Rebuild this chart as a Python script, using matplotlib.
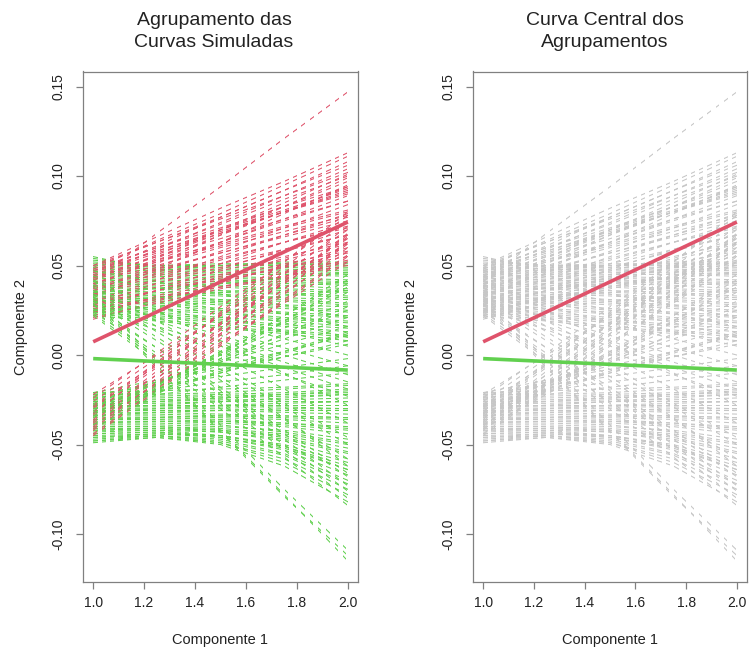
import matplotlib
matplotlib.use("Agg")
import matplotlib.pyplot as plt
from matplotlib.path import Path

plt.rcParams['font.family'] = ['Liberation Sans', 'DejaVu Sans']

# Evaluation grid of the simulated curves
x_knots = [1.0, 1.25, 1.5, 1.75, 2.0]

# Cluster 1 (red): curves starting high and rising
red_upper = [
    (.041, .068, .094, .121, .147),
    (.050, .066, .082, .097, .113),
    (.048, .064, .079, .095, .111),
    (.046, .061, .077, .092, .108),
    (.049, .063, .077, .092, .106),
    (.044, .059, .074, .089, .104),
    (.050, .063, .076, .089, .102),
    (.038, .054, .070, .085, .101),
    (.047, .060, .073, .087, .100),
    (.035, .051, .067, .083, .099),
    (.042, .056, .070, .083, .097),
    (.032, .048, .063, .079, .095),
    (.048, .060, .071, .083, .094),
    (.039, .053, .067, .080, .094),
    (.047, .058, .070, .081, .093),
    (.043, .055, .068, .080, .092),
    (.045, .057, .068, .080, .091),
    (.046, .058, .069, .080, .090),
    (.036, .049, .063, .076, .089),
    (.040, .052, .063, .075, .086),
    (.044, .055, .065, .076, .086),
    (.033, .046, .058, .071, .084),
    (.043, .053, .062, .072, .081),
    (.042, .052, .061, .071, .080),
    (.030, .042, .055, .067, .079),
    (.040, .050, .060, .069, .078),
    (.037, .047, .057, .067, .077),
    (.038, .048, .057, .066, .075),
    (.028, .040, .051, .063, .074),
    (.034, .044, .053, .063, .072),
    (.036, .045, .054, .063, .071),
    (.025, .036, .048, .059, .070),
    (.031, .040, .049, .058, .067),
    (.034, .042, .051, .059, .067),
    (.022, .033, .044, .054, .065),
    (.030, .038, .047, .055, .063),
    (.027, .036, .045, .053, .062),
    (.020, .030, .040, .050, .060),
    (.028, .036, .043, .051, .058),
    (.024, .032, .041, .049, .057),
    (.029, .036, .042, .049, .055),
    (.024, .031, .038, .046, .053),
    (.021, .029, .037, .044, .052),
    (.026, .032, .038, .044, .050),
]

# Cluster 1 (red): curves starting low and climbing steeply
red_lower = [
    (-.045, -.020, .005, .030, .055),
    (-.042, -.017, .009, .034, .060),
    (-.040, -.013, .014, .041, .068),
    (-.038, -.013, .012, .037, .062),
    (-.036, -.009, .018, .045, .072),
    (-.034, -.011, .012, .035, .058),
    (-.032, -.007, .017, .042, .066),
    (-.030, -.004, .023, .049, .075),
    (-.028, -.005, .018, .040, .063),
    (-.026, -.002, .022, .046, .070),
    (-.024, .001, .027, .052, .078),
    (-.022, .000, .022, .043, .065),
    (-.039, -.016, .007, .029, .052),
    (-.033, -.005, .024, .052, .080),
    (-.044, -.019, .006, .031, .056),
    (-.037, -.011, .015, .041, .067),
    (-.029, -.006, .017, .040, .063),
    (-.041, -.015, .011, .037, .063),
]

# Cluster 2 (green): curves starting in the upper band
green_upper = [
    (.055, .047, .050, .052, .052),
    (.054, .049, .050, .051, .051),
    (.053, .050, .051, .051, .050),
    (.052, .050, .050, .050, .049),
    (.051, .049, .049, .049, .048),
    (.050, .048, .048, .048, .047),
    (.049, .048, .047, .047, .046),
    (.048, .047, .046, .046, .045),
    (.047, .046, .045, .045, .044),
    (.046, .045, .044, .043, .042),
    (.045, .044, .043, .042, .041),
    (.044, .043, .042, .041, .040),
    (.043, .042, .041, .040, .039),
    (.042, .041, .040, .039, .037),
    (.041, .040, .039, .037, .036),
    (.040, .039, .038, .036, .035),
    (.039, .038, .036, .035, .033),
    (.038, .037, .035, .034, .032),
    (.037, .035, .034, .032, .031),
    (.036, .034, .033, .031, .029),
    (.035, .033, .031, .030, .028),
    (.034, .032, .030, .028, .027),
    (.033, .031, .029, .027, .025),
    (.032, .030, .028, .026, .024),
    (.031, .029, .026, .024, .022),
    (.030, .028, .025, .023, .021),
    (.029, .026, .024, .021, .019),
    (.028, .025, .023, .020, .018),
    (.027, .024, .021, .019, .016),
    (.026, .023, .020, .017, .015),
    (.025, .022, .019, .016, .013),
    (.024, .021, .018, .014, .011),
    (.023, .020, .016, .013, .010),
    (.022, .019, .015, .012, .008),
    (.047, .041, .034, .028, .021),
    (.044, .037, .030, .023, .016),
    (.041, .033, .025, .018, .010),
    (.039, .030, .022, .013, .005),
    (.036, .027, .018, .009, .000),
    (.034, .024, .014, .004, -.006),
    (.032, .021, .011, .000, -.011),
    (.030, .019, .008, -.004, -.015),
    (.028, .016, .005, -.007, -.019),
    (.026, .014, .002, -.011, -.023),
    (.025, .027, .030, .033, .036),
    (.030, .032, .035, .038, .041),
    (.035, .037, .040, .043, .046),
]

# Cluster 2 (green): curves crossing downwards from the upper band
green_cross = [
    (.025, -.001, -.027, -.053, -.080),
    (.022, -.004, -.030, -.057, -.084),
    (.028, .004, -.020, -.044, -.068),
    (.030, .008, -.014, -.036, -.058),
    (.034, .013, -.008, -.029, -.050),
    (.038, .019, .000, -.019, -.038),
    (.042, .025, .007, -.010, -.028),
    (.026, .004, -.018, -.042, -.066),
    (.024, .001, -.022, -.047, -.073),
    (.032, .010, -.012, -.035, -.062),
    (.036, .016, -.005, -.027, -.046),
    (.023, -.002, -.026, -.050, -.076),
    (.031, -.006, -.042, -.078, -.115),
    (.029, -.007, -.043, -.079, -.112),
    (.033, -.003, -.039, -.075, -.109),
]

# Cluster 2 (green): curves starting in the lower band
green_lower = [
    (-.049, -.046, -.049, -.060, -.078),
    (-.048, -.045, -.047, -.055, -.070),
    (-.047, -.045, -.048, -.056, -.072),
    (-.046, -.044, -.046, -.052, -.064),
    (-.045, -.044, -.045, -.050, -.060),
    (-.044, -.043, -.045, -.051, -.062),
    (-.043, -.042, -.043, -.047, -.055),
    (-.042, -.041, -.042, -.045, -.052),
    (-.041, -.041, -.043, -.048, -.058),
    (-.040, -.040, -.041, -.044, -.050),
    (-.039, -.039, -.040, -.042, -.047),
    (-.038, -.038, -.039, -.043, -.049),
    (-.037, -.037, -.038, -.040, -.044),
    (-.036, -.036, -.037, -.039, -.042),
    (-.035, -.035, -.036, -.038, -.040),
    (-.034, -.034, -.035, -.036, -.038),
    (-.033, -.033, -.034, -.035, -.036),
    (-.032, -.032, -.033, -.034, -.035),
    (-.031, -.031, -.031, -.032, -.033),
    (-.030, -.030, -.030, -.031, -.031),
    (-.029, -.029, -.029, -.029, -.030),
    (-.028, -.028, -.028, -.028, -.028),
    (-.027, -.027, -.026, -.026, -.026),
    (-.026, -.026, -.025, -.025, -.024),
    (-.025, -.025, -.024, -.023, -.022),
    (-.024, -.024, -.023, -.022, -.021),
    (-.023, -.023, -.022, -.021, -.019),
    (-.022, -.022, -.021, -.019, -.017),
    (-.021, -.020, -.019, -.018, -.016),
    (-.048, -.046, -.050, -.062, -.082),
    (-.046, -.045, -.049, -.058, -.075),
    (-.044, -.043, -.046, -.053, -.067),
    (-.042, -.042, -.045, -.051, -.064),
    (-.040, -.040, -.042, -.046, -.054),
    (-.038, -.037, -.037, -.038, -.041),
    (-.036, -.035, -.034, -.034, -.035),
    (-.034, -.032, -.031, -.030, -.030),
    (-.032, -.030, -.028, -.027, -.026),
    (-.030, -.028, -.026, -.024, -.022),
    (-.028, -.026, -.024, -.022, -.020),
]

# Cluster 2 (green): curves rising from the lower band
green_rise = [
    (-.021, -.014, -.008, -.001, .006),
    (-.023, -.015, -.006, .002, .011),
    (-.025, -.015, -.004, .006, .016),
    (-.027, -.015, -.003, .009, .021),
    (-.029, -.016, -.002, .011, .025),
    (-.031, -.016, .000, .015, .030),
    (-.033, -.017, .002, .018, .035),
    (-.035, -.017, .001, .019, .038),
    (-.037, -.018, .002, .022, .042),
    (-.024, -.020, -.015, -.011, -.006),
    (-.026, -.022, -.018, -.014, -.010),
    (-.022, -.017, -.012, -.007, -.002),
    (-.028, -.019, -.010, -.001, .008),
    (-.030, -.020, -.009, .002, .013),
    (-.032, -.021, -.010, .001, .012),
    (-.034, -.019, -.004, .012, .027),
    (-.039, -.020, .000, .022, .045),
    (-.041, -.022, -.002, .019, .040),
]

# Central curve of each cluster
center_red = [0.0074, 0.0241, 0.0409, 0.0576, 0.0743]
center_green = [-0.0020, -0.0036, -0.0052, -0.0068, -0.0084]

titles = [("Agrupamento das", "Curvas Simuladas"),
          ("Curva Central dos", "Agrupamentos")]
x_label = "Componente 1"
y_label = "Componente 2"
x_ticks = [1.0, 1.2, 1.4, 1.6, 1.8, 2.0]
y_ticks = [-0.10, -0.05, 0.00, 0.05, 0.10, 0.15]

RED = "#DF536B"
GREEN = "#61D04F"
GREY = "#C6C6C6"
AXIS = "#808080"
TEXT = "#222222"


def interleave(a, b):
    out = []
    for i in range(max(len(a), len(b))):
        if i < len(a):
            out.append(a[i])
        if i < len(b):
            out.append(b[i])
    return out


# drawing order: the two clusters mixed together
curves = interleave([(GREEN, c) for c in green_upper + green_cross + green_lower],
                    [(RED, c) for c in red_upper])
curves += interleave([(GREEN, c) for c in green_rise],
                     [(RED, c) for c in red_lower])

W, H = 750, 661
fig = plt.figure(figsize=(W / 100, H / 100), dpi=100)

boxes = [(83, 358), (473, 747)]
top, bottom = 71.5, 582
title_x = [214, 605]
ylim = (-0.1268, 0.1584)
xlim = (0.96, 2.04)

# Dash pattern restarting at every grid step: each curve is clipped to a
# comb of thin vertical bands; steeper curves get shorter dashes.
n_dash = 31
on_frac = 0.56
step = (x_knots[-1] - x_knots[0]) / (n_dash - 1 + on_frac)
px_per_x = (boxes[0][1] - boxes[0][0]) / (xlim[1] - xlim[0])
px_per_y = (bottom - top) / (ylim[1] - ylim[0])
_combs = {}


def dash_comb(frac):
    key = round(frac, 2)
    if key not in _combs:
        verts, codes = [], []
        for i in range(n_dash):
            xa = x_knots[0] + i * step
            xb = xa + key * step
            verts += [(xa, -1.0), (xb, -1.0), (xb, 1.0), (xa, 1.0), (xa, -1.0)]
            codes += [Path.MOVETO, Path.LINETO, Path.LINETO, Path.LINETO,
                      Path.CLOSEPOLY]
        _combs[key] = Path(verts, codes)
    return _combs[key]


for k, (x0, x1) in enumerate(boxes):
    ax = fig.add_axes([x0 / W, (H - bottom) / H, (x1 - x0) / W, (bottom - top) / H])
    for col, c in curves:
        slope = (c[-1] - c[0]) * px_per_y / px_per_x
        frac = on_frac / (1 + slope * slope) ** 0.5
        ln, = ax.plot(x_knots, c, color=(col if k == 0 else GREY), lw=0.75,
                      zorder=1)
        ln.set_clip_path(dash_comb(frac), ax.transData)
    ax.plot(x_knots, center_red, color=RED, lw=2.6, zorder=3,
            solid_capstyle='butt')
    ax.plot(x_knots, center_green, color=GREEN, lw=2.6, zorder=3,
            solid_capstyle='butt')

    ax.set_xlim(*xlim)
    ax.set_ylim(*ylim)
    ax.set_xticks(x_ticks)
    ax.set_xticklabels([f"{v:.1f}" for v in x_ticks])
    ax.set_yticks(y_ticks)
    ax.set_yticklabels([f"{v:.2f}" for v in y_ticks])
    for s in ax.spines.values():
        s.set_color(AXIS)
        s.set_linewidth(0.9)
    ax.tick_params(axis='both', direction='out', length=5, width=0.9,
                   color=AXIS, labelcolor=TEXT, labelsize=10)
    ax.tick_params(axis='x', pad=5)
    ax.tick_params(axis='y', pad=7.5)
    for lab in ax.get_yticklabels():
        lab.set_rotation(90)
        lab.set_va('center')
        lab.set_ha('right')

    cx = (x0 + x1) / 2
    fig.text(title_x[k] / W, 1 - 25 / H, titles[k][0], ha='center',
             va='baseline', fontsize=14, color=TEXT)
    fig.text(title_x[k] / W, 1 - 47 / H, titles[k][1], ha='center',
             va='baseline', fontsize=14, color=TEXT)
    fig.text(cx / W, 1 - 644 / H, x_label, ha='center', va='baseline',
             fontsize=10.5, color=TEXT)
    fig.text((x0 - 62) / W, 1 - ((top + bottom) / 2) / H, y_label,
             ha='center', va='center', rotation=90, fontsize=10.5, color=TEXT)

fig.savefig("out.png", dpi=100, facecolor="white")
